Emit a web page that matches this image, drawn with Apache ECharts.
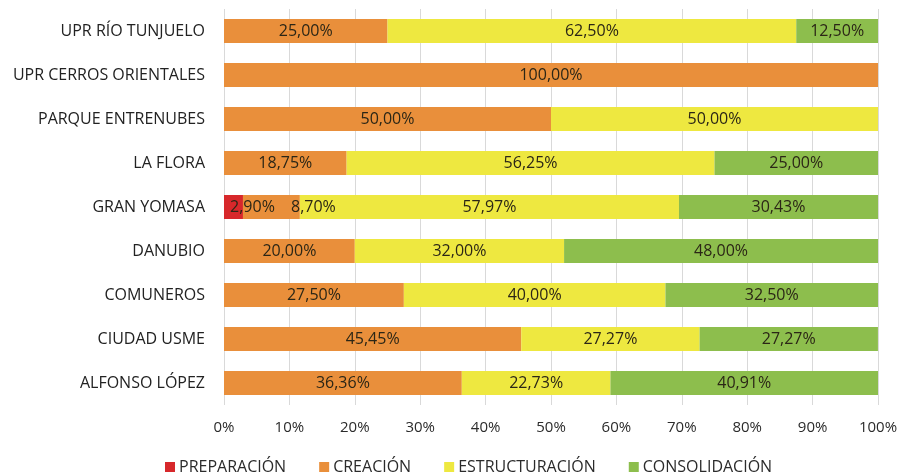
<!DOCTYPE html>
<html><head><meta charset="utf-8">
<script src="https://cdn.jsdelivr.net/npm/echarts@6/dist/echarts.min.js"></script>
<style>html,body{margin:0;padding:0;background:#fff}#c{width:901px;height:474px}</style>
</head><body><div id="c"></div>
<script>
const categories = ['UPR RÍO TUNJUELO','UPR CERROS ORIENTALES','PARQUE ENTRENUBES','LA FLORA','GRAN YOMASA','DANUBIO','COMUNEROS','CIUDAD USME','ALFONSO LÓPEZ'];
const seriesNames = ['PREPARACIÓN','CREACIÓN','ESTRUCTURACIÓN','CONSOLIDACIÓN'];
const preparacion = [0,0,0,0,2.90,0,0,0,0];
const creacion = [25.00,100.00,50.00,18.75,8.70,20.00,27.50,45.45,36.36];
const estructuracion = [62.50,0,50.00,56.25,57.97,32.00,40.00,27.27,22.73];
const consolidacion = [12.50,0,0,25.00,30.43,48.00,32.50,27.27,40.91];
const xTicks = [0,10,20,30,40,50,60,70,80,90,100];
const colors = ['#D7282B','#E98F3B','#EEE840','#8DBE4D'];

const FONT = 'Open Sans';
function fmt(v){ return v.toFixed(2).replace('.', ',') + '%'; }
function mk(name, arr, color, special){
  return {
    name, type:'bar', stack:'t', barWidth:24,
    itemStyle:{color},
    label:{show:true, position:'inside', color:'#2b2616', fontFamily:FONT, fontSize:16,
      formatter:p=>p.value>0?fmt(p.value):''},
    data: arr.map((v,i)=>{
      const d={value:v};
      if(special && special[i]!==undefined){ d.label={offset:[special[i],0]}; }
      return d;
    })
  };
}
const chart = echarts.init(document.getElementById('c'));
chart.setOption({
  animation:false,
  textStyle:{fontFamily:FONT},
  grid:{left:224,right:23,top:9,bottom:69,containLabel:false},
  legend:{top:454,left:160,itemWidth:10,itemHeight:10,itemGap:33,icon:'rect',
    textStyle:{fontFamily:FONT,fontSize:16,color:'#2b2b2b',padding:[0,0,0,-1]},data:seriesNames},
  xAxis:{type:'value',min:xTicks[0],max:xTicks[xTicks.length-1],interval:10,
    axisLabel:{formatter:v=>v+'%',fontFamily:FONT,fontSize:15,color:'#2b2b2b',margin:15},
    axisLine:{show:false},axisTick:{show:false},
    splitLine:{show:true,lineStyle:{color:'#D9D9D9'}}},
  yAxis:{type:'category',data:categories,inverse:true,
    axisLine:{show:false},axisTick:{show:false},
    axisLabel:{fontFamily:FONT,fontSize:16,color:'#222',margin:19}},
  series:[
    mk(seriesNames[0],preparacion,colors[0],{4:19}),
    mk(seriesNames[1],creacion,colors[1],{4:42}),
    mk(seriesNames[2],estructuracion,colors[2]),
    mk(seriesNames[3],consolidacion,colors[3])
  ]
});
</script></body></html>
